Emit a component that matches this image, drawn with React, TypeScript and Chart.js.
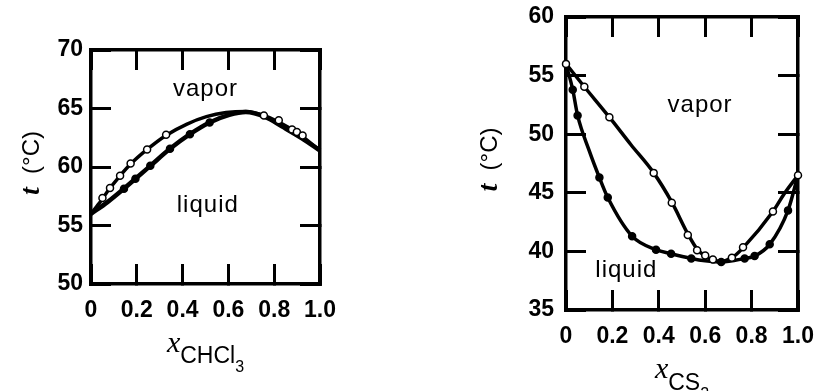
import React, { useEffect, useRef } from "react";
import { Chart, registerables } from "chart.js";

Chart.register(...registerables);

// ---------- shared axis ticks ----------
const xTickValues = [0, 0.2, 0.4, 0.6, 0.8, 1.0];
const xTickLabels = ["0", "0.2", "0.4", "0.6", "0.8", "1.0"];
const leftYTickValues = [50, 55, 60, 65, 70];
const leftYTickLabels = ["50", "55", "60", "65", "70"];
const rightYTickValues = [35, 40, 45, 50, 55, 60];
const rightYTickLabels = ["35", "40", "45", "50", "55", "60"];

// ---------- left panel: acetone – chloroform ----------
const leftVaporX = [0, 0.043, 0.083, 0.127, 0.173, 0.245, 0.327, 0.417, 0.504, 0.59, 0.676, 0.748, 0.82, 0.906, 1.0];
const leftVaporT = [56.0, 57.1, 58.2, 59.25, 60.25, 61.5, 62.7, 63.65, 64.3, 64.65, 64.75, 64.45, 63.85, 62.85, 61.4];
const leftLiquidX = [0, 0.072, 0.144, 0.194, 0.259, 0.345, 0.432, 0.518, 0.604, 0.676, 0.763, 0.835, 0.921, 1.0];
const leftLiquidT = [56.0, 57.0, 58.15, 59.0, 60.1, 61.55, 62.8, 63.8, 64.45, 64.7, 64.25, 63.45, 62.45, 61.4];
const leftOpenX = [0.05, 0.083, 0.127, 0.173, 0.245, 0.328, 0.755, 0.82, 0.878, 0.899, 0.924];
const leftOpenT = [57.35, 58.2, 59.25, 60.3, 61.5, 62.75, 64.4, 64.0, 63.2, 63.0, 62.7];
const leftFilledX = [0.144, 0.194, 0.259, 0.345, 0.432, 0.518];
const leftFilledT = [58.15, 59.0, 60.1, 61.55, 62.8, 63.8];
const leftRegionNames = ["vapor", "liquid"];
const leftRegionX = [0.5, 0.51];
const leftRegionT = [66.6, 56.75];

// ---------- right panel: acetone – carbon disulfide ----------
const rightVaporX = [0, 0.079, 0.187, 0.28, 0.378, 0.456, 0.525, 0.565, 0.6, 0.633, 0.665, 0.715, 0.763, 0.892, 0.94, 1.0];
const rightVaporT = [56.0, 54.05, 51.45, 49.1, 46.7, 44.2, 41.5, 40.2, 39.6, 39.3, 39.15, 39.45, 40.3, 43.4, 44.9, 46.5];
const rightLiquidX = [0, 0.029, 0.05, 0.1, 0.144, 0.18, 0.285, 0.388, 0.453, 0.54, 0.6, 0.669, 0.77, 0.813, 0.878, 0.957, 1.0];
const rightLiquidT = [56.0, 53.8, 51.6, 48.6, 46.3, 44.6, 41.3, 40.15, 39.8, 39.4, 39.2, 39.1, 39.4, 39.6, 40.6, 43.5, 46.5];
const rightOpenX = [0, 0.079, 0.187, 0.378, 0.456, 0.525, 0.565, 0.6, 0.633, 0.715, 0.763, 0.892, 1.0];
const rightOpenT = [56.0, 54.05, 51.45, 46.7, 44.15, 41.4, 40.1, 39.65, 39.3, 39.45, 40.35, 43.4, 46.5];
const rightFilledX = [0.029, 0.05, 0.144, 0.18, 0.285, 0.388, 0.453, 0.54, 0.669, 0.77, 0.813, 0.878, 0.957];
const rightFilledT = [53.8, 51.6, 46.3, 44.6, 41.3, 40.15, 39.8, 39.4, 39.1, 39.4, 39.6, 40.6, 43.5];
const rightRegionNames = ["vapor", "liquid"];
const rightRegionX = [0.578, 0.26];
const rightRegionT = [52.5, 38.4];

const SANS = '"Liberation Sans", Arial, Helvetica, sans-serif';
const SERIF = '"Liberation Serif", "Times New Roman", serif';

type Seg = { text: string; font: string; dy: number };

function drawSegs(ctx: CanvasRenderingContext2D, segs: Seg[], cx: number, baseY: number) {
  let total = 0;
  const widths = segs.map((s) => {
    ctx.font = s.font;
    const w = ctx.measureText(s.text).width;
    total += w;
    return w;
  });
  let x = cx - total / 2;
  segs.forEach((s, i) => {
    ctx.font = s.font;
    ctx.fillText(s.text, x, baseY + s.dy);
    x += widths[i];
  });
}

const panelTextPlugin = {
  id: "panelText",
  afterDraw(chart: any, _args: any, opts: any) {
    const { ctx, chartArea, scales } = chart;
    ctx.save();
    ctx.fillStyle = "#000";
    // region names
    ctx.font = `24px ${SANS}`;
    (ctx as any).letterSpacing = "1px";
    ctx.textAlign = "center";
    ctx.textBaseline = "middle";
    opts.names.forEach((n: string, i: number) => {
      ctx.fillText(n, scales.x.getPixelForValue(opts.nx[i]), scales.y.getPixelForValue(opts.ny[i]));
    });
    (ctx as any).letterSpacing = "0px";
    ctx.textAlign = "left";
    ctx.textBaseline = "alphabetic";
    // x title
    const cx = (chartArea.left + chartArea.right) / 2;
    drawSegs(ctx, opts.xTitle, cx, chartArea.bottom + 68);
    // y title
    ctx.translate(chartArea.left - opts.yTitleGap, (chartArea.top + chartArea.bottom) / 2 - 4);
    ctx.rotate(-Math.PI / 2);
    drawSegs(ctx, opts.yTitle, 0, 8);
    ctx.restore();
  },
};

function zip(xs: number[], ys: number[]) {
  return xs.map((x, i) => ({ x, y: ys[i] }));
}

function curve(xs: number[], ys: number[], w: number) {
  return {
    data: zip(xs, ys),
    borderColor: "#000",
    borderWidth: w,
    pointRadius: 0,
    fill: false,
    cubicInterpolationMode: "monotone",
    clip: false,
  };
}

function markers(xs: number[], ys: number[], fillColor: string) {
  return {
    data: zip(xs, ys),
    showLine: false,
    pointRadius: 3.5,
    pointStyle: "circle",
    pointBackgroundColor: fillColor,
    pointBorderColor: "#000",
    pointBorderWidth: 1.5,
    clip: false,
  };
}

function buildConfig(p: any) {
  const tickFont = { family: SANS, size: 23, weight: "bold" };
  const gridOpts = {
    display: true,
    drawOnChartArea: false,
    drawTicks: true,
    tickLength: -20,
    lineWidth: 3,
    color: "#000",
  };
  const borderOpts = { display: true, width: 3.5, color: "#000" };
  const setTicks = (vals: number[]) => (scale: any) => {
    scale.ticks = vals.map((v) => ({ value: v }));
  };
  const noPad = (s: any) => {
    s.paddingLeft = 0;
    s.paddingRight = 0;
    s.paddingTop = 0;
    s.paddingBottom = 0;
  };
  return {
    type: "line",
    data: {
      datasets: [
        markers(p.openX, p.openT, "#fff"),
        markers(p.filledX, p.filledT, "#000"),
        curve(p.vaporX, p.vaporT, p.vaporW),
        curve(p.liquidX, p.liquidT, p.liquidW),
      ],
    },
    options: {
      responsive: false,
      animation: false,
      devicePixelRatio: 1,
      layout: { padding: p.padding },
      plugins: {
        legend: { display: false },
        tooltip: { enabled: false },
        panelText: {
          names: p.names,
          nx: p.nx,
          ny: p.ny,
          xTitle: p.xTitle,
          yTitle: p.yTitle,
          yTitleGap: p.yTitleGap,
        },
      },
      scales: {
        x: {
          type: "linear",
          position: "bottom",
          min: 0,
          max: 1,
          afterBuildTicks: setTicks(xTickValues),
          afterFit: (s: any) => {
            s.height = p.xAxisH;
            noPad(s);
          },
          ticks: {
            font: tickFont,
            color: "#000",
            padding: 33,
            maxRotation: 0,
            autoSkip: false,
            callback: (_v: any, i: number) => xTickLabels[i],
          },
          grid: gridOpts,
          border: borderOpts,
        },
        x2: {
          type: "linear",
          position: "top",
          min: 0,
          max: 1,
          afterBuildTicks: setTicks(xTickValues),
          afterFit: (s: any) => {
            s.height = 0;
            noPad(s);
          },
          ticks: { display: false },
          grid: gridOpts,
          border: borderOpts,
        },
        y: {
          type: "linear",
          position: "left",
          min: p.yMin,
          max: p.yMax,
          afterBuildTicks: setTicks(p.yTickValues),
          afterFit: (s: any) => {
            s.width = p.yAxisW;
            noPad(s);
          },
          ticks: {
            font: tickFont,
            color: "#000",
            padding: p.yPad,
            autoSkip: false,
            callback: (_v: any, i: number) => p.yTickLabels[i],
          },
          grid: gridOpts,
          border: borderOpts,
        },
        y2: {
          type: "linear",
          position: "right",
          min: p.yMin,
          max: p.yMax,
          afterBuildTicks: setTicks(p.yTickValues),
          afterFit: (s: any) => {
            s.width = 0;
            noPad(s);
          },
          ticks: { display: false },
          grid: gridOpts,
          border: borderOpts,
        },
      },
    },
    plugins: [panelTextPlugin],
  };
}

const leftParams = {
  vaporX: leftVaporX, vaporT: leftVaporT,
  liquidX: leftLiquidX, liquidT: leftLiquidT,
  openX: leftOpenX, openT: leftOpenT,
  filledX: leftFilledX, filledT: leftFilledT,
  vaporW: 3.5, liquidW: 4.5,
  names: leftRegionNames, nx: leftRegionX, ny: leftRegionT,
  yMin: 50, yMax: 70,
  yTickValues: leftYTickValues, yTickLabels: leftYTickLabels,
  padding: { left: 0, top: 50, right: 90, bottom: 0 },
  yAxisW: 91, xAxisH: 107, yPad: 28, yTitleGap: 60,
  xTitle: [
    { text: "x", font: `italic 30px ${SERIF}`, dy: 0 },
    { text: "CHCl", font: `23px ${SANS}`, dy: 11 },
    { text: "3", font: `16px ${SANS}`, dy: 20 },
  ],
  yTitle: [
    { text: "t", font: `italic bold 28px ${SERIF}`, dy: 0 },
    { text: "  (°C)", font: `24px ${SANS}`, dy: 0 },
  ],
};

const rightParams = {
  vaporX: rightVaporX, vaporT: rightVaporT,
  liquidX: rightLiquidX, liquidT: rightLiquidT,
  openX: rightOpenX, openT: rightOpenT,
  filledX: rightFilledX, filledT: rightFilledT,
  vaporW: 3.5, liquidW: 3.5,
  names: rightRegionNames, nx: rightRegionX, ny: rightRegionT,
  yMin: 35, yMax: 60,
  yTickValues: rightYTickValues, yTickLabels: rightYTickLabels,
  padding: { left: 0, top: 17, right: 21, bottom: 0 },
  yAxisW: 156, xAxisH: 81, yPad: 32, yTitleGap: 77,
  xTitle: [
    { text: "x", font: `italic 30px ${SERIF}`, dy: 0 },
    { text: "CS", font: `23px ${SANS}`, dy: 12 },
    { text: "2", font: `16px ${SANS}`, dy: 21 },
  ],
  yTitle: [
    { text: "t", font: `italic bold 28px ${SERIF}`, dy: 0 },
    { text: "  (°C)", font: `24px ${SANS}`, dy: 0 },
  ],
};

function Panel({ params, left, width }: { params: any; left: number; width: number }) {
  const ref = useRef<HTMLCanvasElement>(null);
  useEffect(() => {
    const chart = new Chart(ref.current as HTMLCanvasElement, buildConfig(params) as any);
    return () => chart.destroy();
  }, [params]);
  return (
    <canvas
      ref={ref}
      width={width}
      height={391}
      style={{ position: "absolute", left, top: 0, width, height: 391, display: "block" }}
    />
  );
}

export default function App() {
  return (
    <div
      style={{
        position: "fixed",
        left: 0,
        top: 0,
        width: 819,
        height: 391,
        background: "#fff",
        overflow: "hidden",
      }}
    >
      <Panel params={leftParams} left={0} width={410} />
      <Panel params={rightParams} left={410} width={409} />
    </div>
  );
}
